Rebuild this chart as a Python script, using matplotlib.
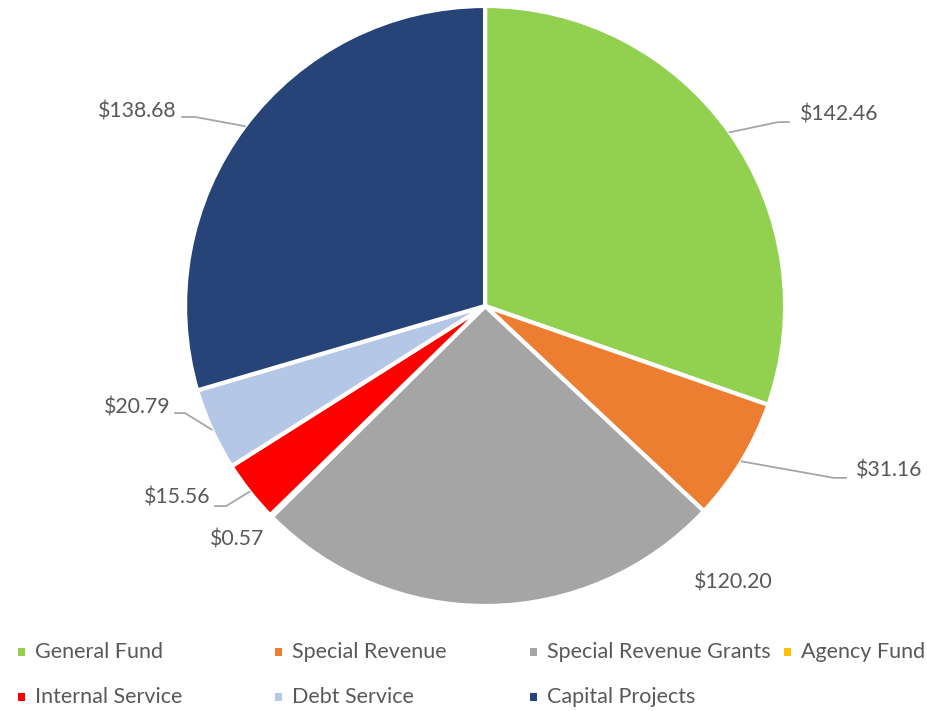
import numpy as np
import matplotlib.pyplot as plt
from matplotlib.patches import Rectangle

# data
funds = ['General Fund', 'Special Revenue', 'Special Revenue Grants', 'Agency Fund',
         'Internal Service', 'Debt Service', 'Capital Projects']
amounts = [142.46, 31.16, 120.20, 0.57, 15.56, 20.79, 138.68]
colors = ['#92D050', '#ED7D31', '#A5A5A5', '#FFC000', '#FF0000', '#B4C7E7', '#264478']

# label layout (data units, radius = 1): text pos, ha, leader elbow x/y, leader end x
label_pos = [(1.05, 0.637, 'left'), (1.237, -0.547, 'left'), (0.827, -0.923, 'center'),
             (-0.825, -0.78, 'center'), (-0.917, -0.64, 'right'), (-1.05, -0.34, 'right'),
             (-1.03, 0.647, 'right')]
leaders = [(0.977, 0.613, 1.013), (1.163, -0.573, 1.203), None, None,
           (-0.863, -0.667, -0.9), (-1.0, -0.357, -1.033), (-0.967, 0.63, -1.01)]

text_color = '#595959'
font = ['Lato', 'DejaVu Sans']

fig = plt.figure(figsize=(9.28, 7.11), dpi=100)
fig.patch.set_facecolor('white')
ax = fig.add_axes([0.1994, 0.1477, 0.6466, 0.8439])

wedges, _ = ax.pie(amounts, colors=colors, startangle=90, counterclock=False,
                   radius=1.0, wedgeprops=dict(edgecolor='white', linewidth=3))
ax.set_xlim(-1, 1)
ax.set_ylim(-1, 1)
ax.set_aspect('equal')
ax.axis('off')

total = sum(amounts)
cum = 0.0
for val, (tx, ty, ha), lead in zip(amounts, label_pos, leaders):
    mid = np.deg2rad(90 - 360 * (cum + val / 2) / total)
    cum += val
    if lead is not None:
        ex, ey, hx = lead
        ax.plot([np.cos(mid), ex, hx], [np.sin(mid), ey, ey], color='#A6A6A6',
                lw=1.3, clip_on=False)
    ax.text(tx, ty, f'${val:.2f}', ha=ha, va='center', fontsize=15.3,
            color=text_color, family=font, clip_on=False)

# legend, drawn by hand to match the Excel column grid
col_x = [18, 275, 530, 784]
row_y = [652, 697]
W, H = 928, 711
for i, (name, c) in enumerate(zip(funds, colors)):
    x = col_x[i % 4]
    y = row_y[i // 4]
    fig.patches.append(Rectangle((x / W, (H - y - 4) / H), 7 / W, 8 / H,
                                 transform=fig.transFigure, facecolor=c,
                                 edgecolor='none'))
    fig.text((x + 17) / W, (H - y) / H, name, ha='left', va='center',
             fontsize=15.5, color=text_color, family=font)

fig.savefig('out.png', dpi=100, facecolor='white')
